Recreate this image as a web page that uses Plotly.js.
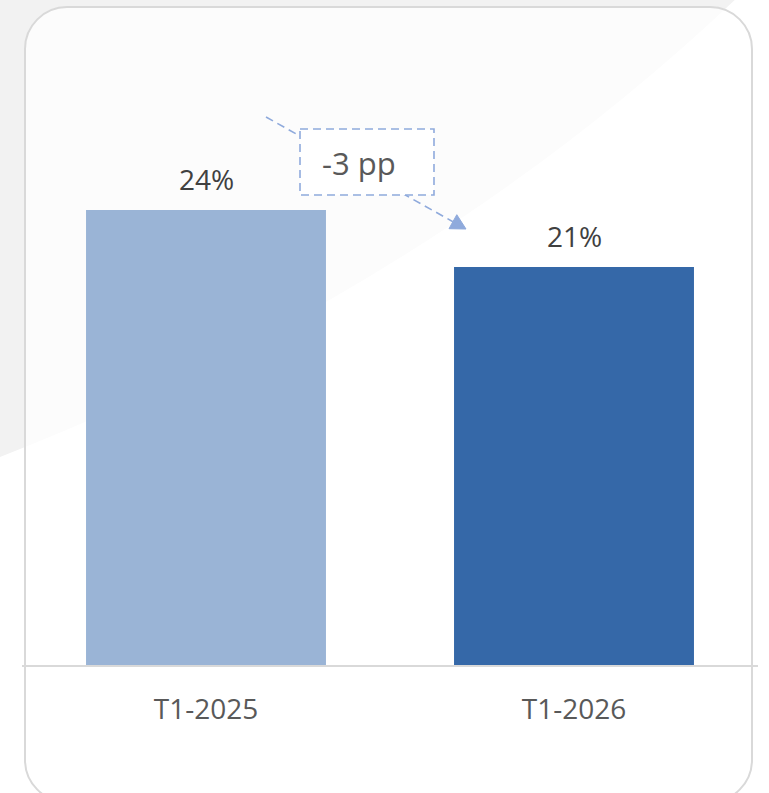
<!DOCTYPE html>
<html>
<head>
<meta charset="utf-8">
<script src="https://cdn.plot.ly/plotly-3.0.1.min.js"></script>
<style>
  html, body { margin: 0; padding: 0; background: #ffffff; }
  #chart { width: 769px; height: 793px; }
</style>
</head>
<body>
<div id="chart"></div>
<script>
// ---- data ----
const categories = ["T1-2025", "T1-2026"];
const values = [24, 21];
const valueLabels = ["24%", "21%"];
const barColors = ["#9AB4D6", "#3568A8"];
const deltaLabel = "-3 pp";

// ---- helpers (pixel -> paper) ----
const W = 769, H = 793;
const X = px => px / W;
const Y = py => 1 - py / H;
function pathFrom(cmds) {
  return cmds.map(c => {
    const l = c[0];
    const nums = [];
    for (let i = 1; i < c.length; i += 2) nums.push(X(c[i]).toFixed(5) + "," + Y(c[i + 1]).toFixed(5));
    return l + nums.join(" ");
  }).join(" ");
}

// card rounded rect
const cl = 25, ct = 7, cr = 752, cb = 802, rr = 42, k = 0.45;
const cardPath = pathFrom([
  ["M", cl + rr, ct],
  ["L", cr - rr, ct],
  ["C", cr - rr * k, ct, cr, ct + rr * k, cr, ct + rr],
  ["L", cr, cb - rr],
  ["C", cr, cb - rr * k, cr - rr * k, cb, cr - rr, cb],
  ["L", cl + rr, cb],
  ["C", cl + rr * k, cb, cl, cb - rr * k, cl, cb - rr],
  ["L", cl, ct + rr],
  ["C", cl, ct + rr * k, cl + rr * k, ct, cl + rr, ct],
  ["Z"]
]);

// background swoosh
const swooshPath = pathFrom([
  ["M", -5, 459],
  ["Q", 430, 290, 740, -5],
  ["L", -5, -5],
  ["Z"]
]);

// arrowhead
const tip = [466, 229], dir = [0.873, 0.487], perp = [-0.487, 0.873];
const bc = [tip[0] - 15 * dir[0], tip[1] - 15 * dir[1]];
const headPath = pathFrom([
  ["M", tip[0], tip[1]],
  ["L", bc[0] + 8 * perp[0], bc[1] + 8 * perp[1]],
  ["L", bc[0] - 8 * perp[0], bc[1] - 8 * perp[1]],
  ["Z"]
]);

const dashColor = "#8FAADC";

const trace = {
  type: "bar",
  x: categories,
  y: values,
  marker: { color: barColors, line: { width: 0 } },
  width: 0.652,
  hoverinfo: "skip"
};

const annotations = categories.map((c, i) => ({
  x: c, y: values[i], xref: "x", yref: "y",
  text: valueLabels[i], showarrow: false,
  yanchor: "middle", yshift: 31,
  font: { family: "Open Sans, sans-serif", size: 28, color: "#404040" }
}));
annotations.push({
  x: X(359), y: Y(163), xref: "paper", yref: "paper",
  text: deltaLabel, showarrow: false, xanchor: "center", yanchor: "middle",
  font: { family: "Open Sans, sans-serif", size: 31, color: "#595959" }
});

const layout = {
  width: W, height: H,
  margin: { l: 0, r: 0, t: 0, b: 0 },
  paper_bgcolor: "#ffffff",
  plot_bgcolor: "rgba(0,0,0,0)",
  showlegend: false,
  font: { family: "Open Sans, sans-serif" },
  xaxis: {
    domain: [22 / W, 758 / W],
    range: [-0.5, 1.5],
    type: "category",
    showline: true, linecolor: "#D9D9D9", linewidth: 2,
    showgrid: false, zeroline: false,
    ticks: "", ticklabelstandoff: 18,
    tickfont: { family: "Open Sans, sans-serif", size: 28, color: "#595959" },
    fixedrange: true
  },
  yaxis: {
    domain: [(H - 665) / H, 1],
    range: [0, 665 / 18.955],
    visible: false, showgrid: false, zeroline: false,
    fixedrange: true
  },
  shapes: [
    { type: "path", path: swooshPath, xref: "paper", yref: "paper", layer: "below",
      fillcolor: "#F2F2F2", line: { width: 0 } },
    { type: "path", path: cardPath, xref: "paper", yref: "paper", layer: "below",
      fillcolor: "rgba(255,255,255,0.72)", line: { color: "#D9D9D9", width: 2 } },
    { type: "line", xref: "paper", yref: "paper",
      x0: X(266), y0: Y(117), x1: X(bc[0]), y1: Y(bc[1]),
      line: { color: dashColor, width: 1.6, dash: "8px,5px" } },
    { type: "rect", xref: "paper", yref: "paper",
      x0: X(300), y0: Y(129), x1: X(434), y1: Y(195),
      fillcolor: "#FFFFFF", line: { color: dashColor, width: 1.6, dash: "8px,5px" } },
    { type: "path", path: headPath, xref: "paper", yref: "paper",
      fillcolor: dashColor, line: { color: dashColor, width: 1 } }
  ],
  annotations: annotations
};

Plotly.newPlot("chart", [trace], layout, { displayModeBar: false, staticPlot: true });
</script>
</body>
</html>
